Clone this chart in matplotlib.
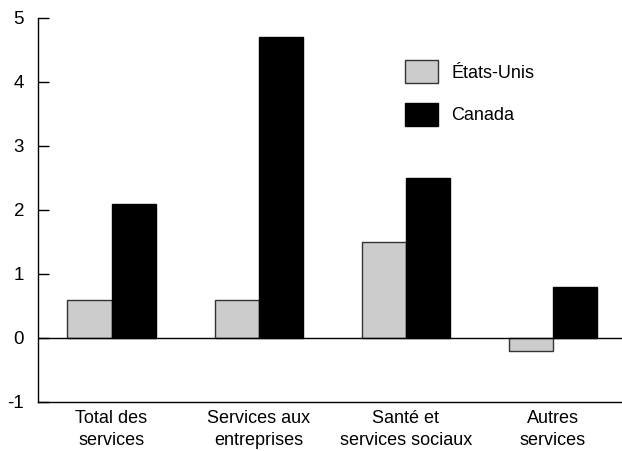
import matplotlib
matplotlib.use("Agg")
import matplotlib.pyplot as plt
import numpy as np

categories = ["Total des\nservices", "Services aux\nentreprises", "Santé et\nservices sociaux", "Autres\nservices"]
us_values = [0.6, 0.6, 1.5, -0.2]
ca_values = [2.1, 4.7, 2.5, 0.8]
series_names = ["États-Unis", "Canada"]
yticks = [-1, 0, 1, 2, 3, 4, 5]

plt.rcParams['font.family'] = ['Liberation Sans', 'DejaVu Sans']

fig = plt.figure(figsize=(6.22, 4.51), dpi=100)
ax = fig.add_axes([38/622, 49/451, 1 - 38/622, 384/451])

x = np.arange(len(categories))
w = 0.3
ax.bar(x - w/2, us_values, w, color='#cccccc', edgecolor='#333333', linewidth=1.0, label=series_names[0])
ax.bar(x + w/2, ca_values, w, color='black', edgecolor='black', linewidth=1.0, label=series_names[1])
ax.axhline(0, color='black', linewidth=1.0)

ax.set_xlim(-0.5, 3.47)
ax.set_ylim(-1, 5)
ax.set_yticks(yticks)
ax.set_yticklabels([str(t) for t in yticks], fontsize=13.5)
ax.set_xticks(x)
ax.set_xticklabels(categories, fontsize=13, linespacing=1.35)
ax.tick_params(axis='x', length=0, pad=6)
ax.tick_params(axis='y', direction='in', length=8, pad=10, width=1)
for s in ['top', 'right']:
    ax.spines[s].set_visible(False)
for s in ['left', 'bottom']:
    ax.spines[s].set_linewidth(1.0)

leg = ax.legend(loc='upper left', bbox_to_anchor=(0.613, 0.913), frameon=False,
                fontsize=13, handlelength=1.83, handleheight=1.55, borderpad=0,
                labelspacing=1.1, handletextpad=0.75)

fig.savefig("out.png", dpi=100)
